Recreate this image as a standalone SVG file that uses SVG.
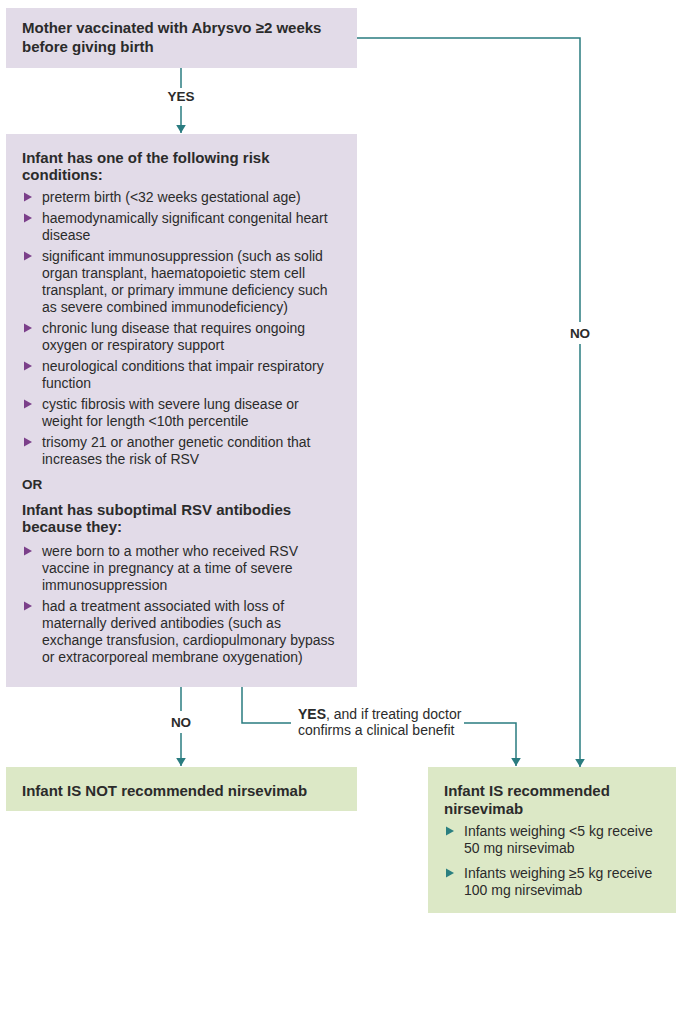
<svg xmlns="http://www.w3.org/2000/svg" width="681" height="1024" viewBox="0 0 681 1024">
<defs>
<style>
.t{font-family:"Liberation Sans",Arial,sans-serif;font-size:14px;fill:#2b2b2b}
.b{font-family:"Liberation Sans",Arial,sans-serif;font-size:15px;font-weight:bold;fill:#2b2b2b}
.lb{font-family:"Liberation Sans",Arial,sans-serif;font-size:13.5px;font-weight:bold;fill:#2b2b2b}
.p{fill:#e2dbe8}
.g{fill:#dce8c6}
.c{fill:none;stroke:#2a7c80;stroke-width:1.5}
.bp{fill:#7b3f8a}
.bg{fill:#2a7f80}
</style>
<marker id="ah" viewBox="0 0 10 12" refX="10" refY="6" markerWidth="8" markerHeight="12" orient="auto" markerUnits="userSpaceOnUse">
<path d="M0,0 L10,6 L0,12 Z" fill="#2a7c80"/>
</marker>
</defs>
<rect width="681" height="1024" fill="#ffffff"/>
<g id="connectors">
<path class="c" d="M181,68 V88"/>
<path class="c" d="M181,106 V133" marker-end="url(#ah)"/>
<text class="lb" x="181" y="101" text-anchor="middle">YES</text>
<path class="c" d="M357,38 H580 V322"/>
<path class="c" d="M580,344 V767" marker-end="url(#ah)"/>
<text class="lb" x="580" y="338" text-anchor="middle">NO</text>
<path class="c" d="M181,687 V711"/>
<path class="c" d="M181,733 V766" marker-end="url(#ah)"/>
<text class="lb" x="181" y="727" text-anchor="middle">NO</text>
<path class="c" d="M242,687 V723 H291"/>
<path class="c" d="M464,723 H516 V766" marker-end="url(#ah)"/>
<text class="t" x="298" y="719"><tspan font-weight="bold">YES</tspan>, and if treating doctor</text>
<text class="t" x="298" y="735">confirms a clinical benefit</text>
</g>
<g id="node-mother">
<rect class="p" x="6" y="8" width="351" height="60"/>
<text class="b" x="22" y="33">Mother vaccinated with Abrysvo ≥2 weeks</text>
<text class="b" x="22" y="52">before giving birth</text>
</g>
<g id="node-risk">
<rect class="p" x="6" y="134" width="351" height="553"/>
<text class="b" x="22" y="163">Infant has one of the following risk</text>
<text class="b" x="22" y="180">conditions:</text>
<path class="bp" d="M24,192.5 L32,197 L24,201.5 Z"/>
<text class="t" x="42" y="202">preterm birth (&lt;32 weeks gestational age)</text>
<path class="bp" d="M24,213.5 L32,218 L24,222.5 Z"/>
<text class="t" x="42" y="223">haemodynamically significant congenital heart</text>
<text class="t" x="42" y="240">disease</text>
<path class="bp" d="M24,251.5 L32,256 L24,260.5 Z"/>
<text class="t" x="42" y="261">significant immunosuppression (such as solid</text>
<text class="t" x="42" y="278">organ transplant, haematopoietic stem cell</text>
<text class="t" x="42" y="295">transplant, or primary immune deficiency such</text>
<text class="t" x="42" y="312">as severe combined immunodeficiency)</text>
<path class="bp" d="M24,323.5 L32,328 L24,332.5 Z"/>
<text class="t" x="42" y="333">chronic lung disease that requires ongoing</text>
<text class="t" x="42" y="350">oxygen or respiratory support</text>
<path class="bp" d="M24,361.5 L32,366 L24,370.5 Z"/>
<text class="t" x="42" y="371">neurological conditions that impair respiratory</text>
<text class="t" x="42" y="388">function</text>
<path class="bp" d="M24,399.5 L32,404 L24,408.5 Z"/>
<text class="t" x="42" y="409">cystic fibrosis with severe lung disease or</text>
<text class="t" x="42" y="426">weight for length &lt;10th percentile</text>
<path class="bp" d="M24,437.5 L32,442 L24,446.5 Z"/>
<text class="t" x="42" y="447">trisomy 21 or another genetic condition that</text>
<text class="t" x="42" y="464">increases the risk of RSV</text>
<text class="lb" x="22" y="489">OR</text>
<text class="b" x="22" y="515">Infant has suboptimal RSV antibodies</text>
<text class="b" x="22" y="532">because they:</text>
<path class="bp" d="M24,546.5 L32,551 L24,555.5 Z"/>
<text class="t" x="42" y="556">were born to a mother who received RSV</text>
<text class="t" x="42" y="573">vaccine in pregnancy at a time of severe</text>
<text class="t" x="42" y="590">immunosuppression</text>
<path class="bp" d="M24,601.5 L32,606 L24,610.5 Z"/>
<text class="t" x="42" y="611">had a treatment associated with loss of</text>
<text class="t" x="42" y="628">maternally derived antibodies (such as</text>
<text class="t" x="42" y="645">exchange transfusion, cardiopulmonary bypass</text>
<text class="t" x="42" y="662">or extracorporeal membrane oxygenation)</text>
</g>
<g id="node-not">
<rect class="g" x="6" y="767" width="351" height="44"/>
<text class="b" x="22" y="796">Infant IS NOT recommended nirsevimab</text>
</g>
<g id="node-is">
<rect class="g" x="428" y="767" width="248" height="146"/>
<text class="b" x="444" y="796">Infant IS recommended</text>
<text class="b" x="444" y="814">nirsevimab</text>
<path class="bg" d="M446,826.5 L454,831 L446,835.5 Z"/>
<text class="t" x="464" y="836">Infants weighing &lt;5 kg receive</text>
<text class="t" x="464" y="853">50 mg nirsevimab</text>
<path class="bg" d="M446,868.5 L454,873 L446,877.5 Z"/>
<text class="t" x="464" y="878">Infants weighing ≥5 kg receive</text>
<text class="t" x="464" y="895">100 mg nirsevimab</text>
</g>
</svg>
